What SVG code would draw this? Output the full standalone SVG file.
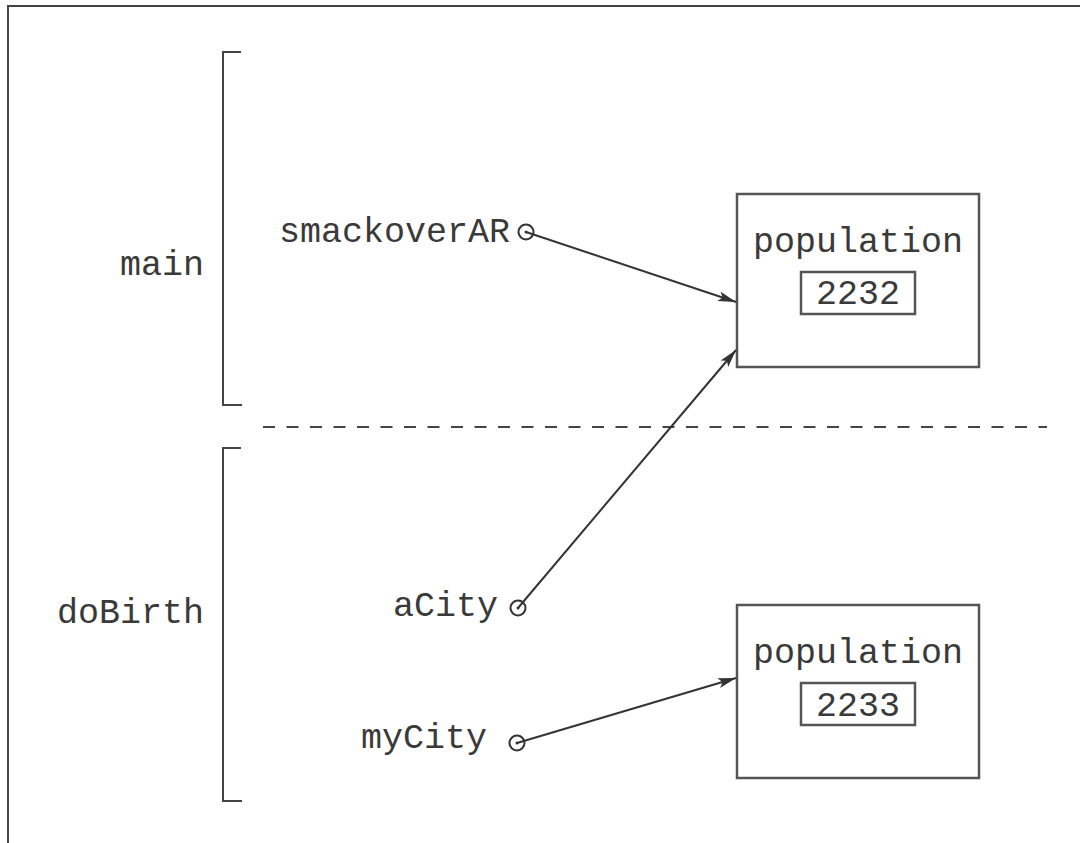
<svg xmlns="http://www.w3.org/2000/svg" width="1080" height="843" viewBox="0 0 1080 843">
<defs>
<marker id="ah" viewBox="0 0 18 10" refX="18" refY="5" markerWidth="18" markerHeight="10" markerUnits="userSpaceOnUse" orient="auto">
<path d="M0,0 L18,5 L0,10 L4,5 Z" fill="#333"/>
</marker>
</defs>
<style>
text{font-family:"Liberation Mono","Courier New",monospace;font-size:35px;fill:#3a3a3a}
.ln{fill:none;stroke:#444;stroke-width:2}
.box{fill:#fff;stroke:#555;stroke-width:2.5}
.dot{fill:#fff;stroke:#333;stroke-width:2}
.conn{fill:none;stroke:#333;stroke-width:2;marker-end:url(#ah)}
</style>
<rect width="1080" height="843" fill="#fff"/>
<g id="frame">
<path class="ln" d="M8,843 L8,6 L1080,6" stroke-width="2.5"/>
</g>
<g id="frame-main">
<path class="ln" d="M241,52 L223,52 L223,405 L242,405"/>
<text x="204" y="275" text-anchor="end">main</text>
</g>
<g id="frame-doBirth">
<path class="ln" d="M241,448 L223,448 L223,801 L242,801"/>
<text x="204" y="623" text-anchor="end">doBirth</text>
</g>
<g id="separator">
<path class="ln" d="M263,427 L1047,427" stroke="#555" stroke-width="2.5" stroke-dasharray="12 11.5"/>
</g>
<g id="var-smackoverAR">
<text x="510" y="242" text-anchor="end">smackoverAR</text>
<circle class="dot" cx="526" cy="232" r="7.5"/>
<circle cx="526" cy="232" r="1.5" fill="#333"/>
</g>
<g id="var-aCity">
<text x="498" y="616" text-anchor="end">aCity</text>
<circle class="dot" cx="518" cy="608" r="7.5"/>
<circle cx="518" cy="608" r="1.5" fill="#333"/>
</g>
<g id="var-myCity">
<text x="487" y="748" text-anchor="end">myCity</text>
<circle class="dot" cx="517" cy="743" r="7.5"/>
<circle cx="517" cy="743" r="1.5" fill="#333"/>
</g>
<g id="obj-city1">
<rect class="box" x="737" y="194" width="242" height="173"/>
<text x="858" y="252" text-anchor="middle">population</text>
<rect class="box" x="801" y="272" width="114" height="42" stroke-width="2"/>
<text x="858" y="304" text-anchor="middle">2232</text>
</g>
<g id="obj-city2">
<rect class="box" x="737" y="605" width="242" height="173"/>
<text x="858" y="663" text-anchor="middle">population</text>
<rect class="box" x="801" y="683" width="114" height="42" stroke-width="2"/>
<text x="858" y="716" text-anchor="middle">2233</text>
</g>
<g id="connectors">
<line class="conn" x1="526" y1="232" x2="736" y2="302"/>
<line class="conn" x1="518" y1="608" x2="736" y2="350"/>
<line class="conn" x1="517" y1="743" x2="736" y2="678"/>
</g>
</svg>
